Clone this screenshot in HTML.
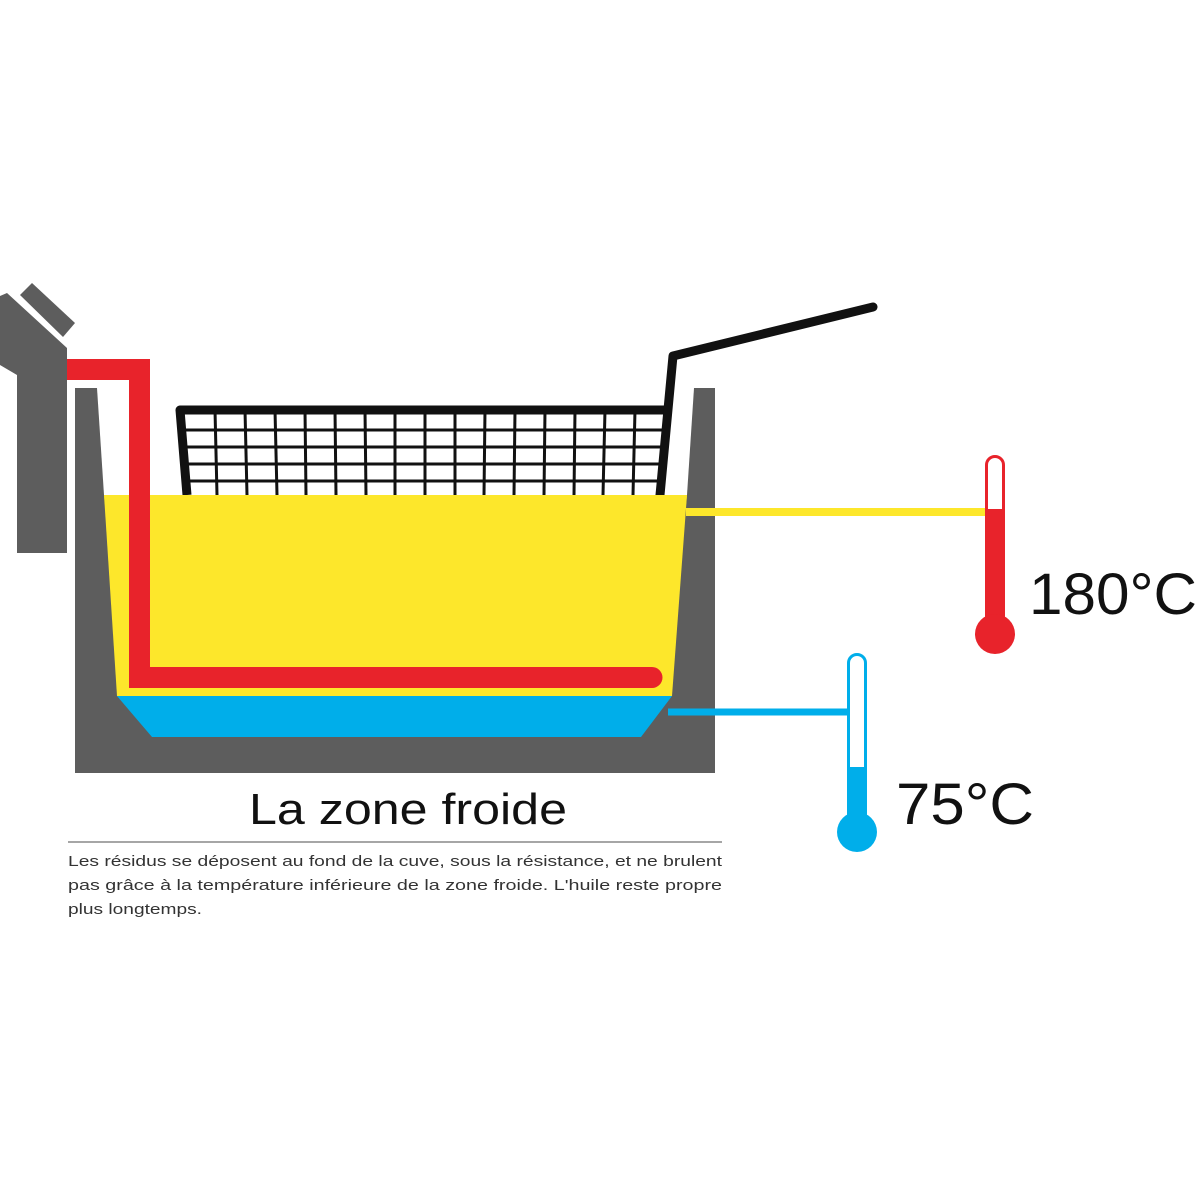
<!DOCTYPE html>
<html><head><meta charset="utf-8"><style>html,body{margin:0;padding:0;background:#fff}svg{display:block}</style></head>
<body>
<svg width="1200" height="1200" viewBox="0 0 1200 1200" xmlns="http://www.w3.org/2000/svg" font-family="Liberation Sans, sans-serif">
<rect width="1200" height="1200" fill="#fff"/>
<!-- fryer body -->
<rect x="75" y="388" width="640" height="385" fill="#5d5d5d"/>
<polygon points="97,388 694,388 687,495 104,495" fill="#fff"/>
<polygon points="104,495 687,495 672,696 117,696" fill="#fde72b"/>
<polygon points="117,696 672,696 641,737 152,737" fill="#00aeea"/>
<!-- basket -->
<g stroke="#111" stroke-width="3">
<line x1="185" y1="430" x2="670" y2="430"/>
<line x1="186" y1="447" x2="668" y2="447"/>
<line x1="188" y1="464" x2="666" y2="464"/>
<line x1="190" y1="481" x2="664" y2="481"/>
<line x1="215" y1="410" x2="217" y2="495"/><line x1="245" y1="410" x2="247" y2="495"/><line x1="275" y1="410" x2="277" y2="495"/>
<line x1="305" y1="410" x2="306" y2="495"/><line x1="335" y1="410" x2="336" y2="495"/><line x1="365" y1="410" x2="366" y2="495"/>
<line x1="395" y1="410" x2="395" y2="495"/><line x1="425" y1="410" x2="425" y2="495"/><line x1="455" y1="410" x2="455" y2="495"/>
<line x1="485" y1="410" x2="484" y2="495"/><line x1="515" y1="410" x2="514" y2="495"/><line x1="545" y1="410" x2="544" y2="495"/>
<line x1="575" y1="410" x2="574" y2="495"/><line x1="605" y1="410" x2="603" y2="495"/><line x1="635" y1="410" x2="633" y2="495"/>
</g>
<path d="M187,495 L180,410 L666,410" fill="none" stroke="#111" stroke-width="9" stroke-linejoin="round"/>
<path d="M660,495 L673,356 L873,307" fill="none" stroke="#111" stroke-width="9" stroke-linejoin="round" stroke-linecap="round"/>
<!-- oil covers basket bottom -->
<polygon points="104,495 687,495 686,505 105,505" fill="#fde72b"/>
<!-- red heater -->
<path d="M67,369.5 H139.5 V677.5 H652" fill="none" stroke="#e8232b" stroke-width="21" stroke-linecap="round"/>
<rect x="60" y="359" width="10" height="21" fill="#e8232b"/>
<!-- head -->
<polygon points="0,296 7,293 67,348 67,553 17,553 17,375 0,365" fill="#5d5d5d"/>
<polygon points="20,295 32,283 75,323 63,337" fill="#5d5d5d"/>
<!-- connectors -->
<line x1="686" y1="512" x2="990" y2="512" stroke="#fde72b" stroke-width="8"/>
<line x1="668" y1="712" x2="850" y2="712" stroke="#00aeea" stroke-width="7"/>
<!-- red thermometer -->
<rect x="986.5" y="456.5" width="17" height="170" rx="8.5" fill="#fff" stroke="#e8232b" stroke-width="3"/>
<rect x="985" y="509" width="20" height="120" fill="#e8232b"/>
<circle cx="995" cy="634" r="20" fill="#e8232b"/>
<!-- blue thermometer -->
<rect x="848.5" y="654.5" width="17" height="170" rx="8.5" fill="#fff" stroke="#00aeea" stroke-width="3"/>
<rect x="847" y="767" width="20" height="60" fill="#00aeea"/>
<circle cx="857" cy="832" r="20" fill="#00aeea"/>
<!-- labels -->
<text x="1029" y="614" font-size="58" fill="#111" textLength="168" lengthAdjust="spacingAndGlyphs">180°C</text>
<text x="896" y="824" font-size="58" fill="#111" textLength="138" lengthAdjust="spacingAndGlyphs">75°C</text>
<text x="408" y="824" font-size="44" fill="#111" text-anchor="middle" textLength="318" lengthAdjust="spacingAndGlyphs">La zone froide</text>
<line x1="68" y1="842" x2="722" y2="842" stroke="#888" stroke-width="1.5"/>
<g font-size="15" fill="#333">
<text x="68" y="866" textLength="654" lengthAdjust="spacingAndGlyphs">Les résidus se déposent au fond de la cuve, sous la résistance, et ne brulent</text>
<text x="68" y="890" textLength="654" lengthAdjust="spacingAndGlyphs">pas grâce à la température inférieure de la zone froide. L'huile reste propre</text>
<text x="68" y="914" textLength="134" lengthAdjust="spacingAndGlyphs">plus longtemps.</text>
</g>
</svg>
</body></html>
